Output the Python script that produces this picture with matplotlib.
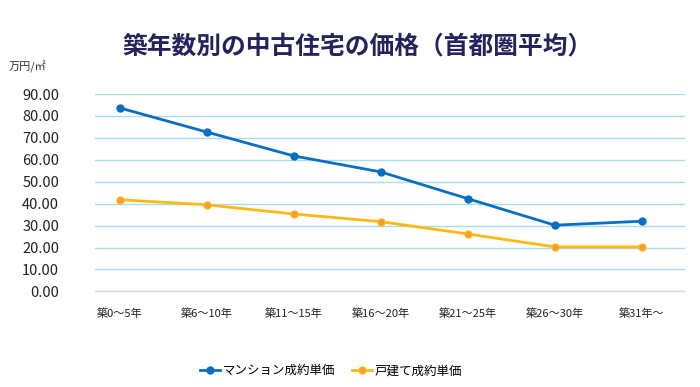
import matplotlib
matplotlib.use('Agg')
import matplotlib.pyplot as plt

plt.rcParams['font.family'] = ['Noto Sans CJK JP', 'DejaVu Sans']

categories = ['築0～5年', '築6～10年', '築11～15年', '築16～20年', '築21～25年', '築26～30年', '築31年～']
mansion = [83.7, 72.7, 61.8, 54.5, 42.3, 30.2, 32.0]
kodate = [41.8, 39.5, 35.3, 31.8, 26.2, 20.3, 20.3]
y_ticks = [0, 10, 20, 30, 40, 50, 60, 70, 80, 90]

fig = plt.figure(figsize=(7, 3.87), dpi=100)
ax = fig.add_axes([0.136, 0.247, 0.843, 0.51])

x = range(len(categories))
ax.plot(x, mansion, color='#0a6fc2', lw=2, marker='o', ms=5,
        mfc='#0a6fc2', mec='#0a6fc2', label='マンション成約単価')
ax.plot(x, kodate, color='#fdb813', lw=2, marker='o', ms=5,
        mfc='#f59a3a', mec='#fdb813', label='戸建て成約単価')

ax.set_xlim(-0.28, 6.5)
ax.set_ylim(0, 90)
ax.set_yticks(y_ticks)
ax.set_yticklabels([f'{v:.2f}' for v in y_ticks], fontsize=10.5, color='#222222')
ax.set_xticks(list(x))
ax.set_xticklabels(categories, fontsize=8, color='#222222')
ax.tick_params(axis='both', length=0)
ax.tick_params(axis='y', pad=26)
ax.tick_params(axis='x', pad=12)

ax.grid(axis='y', color='#a9dcef', lw=1)
ax.set_axisbelow(True)
for s in ['top', 'right', 'left']:
    ax.spines[s].set_visible(False)
ax.spines['bottom'].set_color('#d9d9d9')

fig.text(0.51, 0.88, '築年数別の中古住宅の価格（首都圏平均）', ha='center', va='center',
         fontsize=17.8, fontweight='bold', color='#25235e')
fig.text(0.012, 0.828, '万円/㎡', ha='left', va='center', fontsize=8, color='#333333')

fig.legend(loc='center', bbox_to_anchor=(0.473, 0.042), ncol=2, frameon=False,
           fontsize=9, handlelength=1.6, columnspacing=1.4, handletextpad=0.2)

fig.savefig('out.png', dpi=100)
